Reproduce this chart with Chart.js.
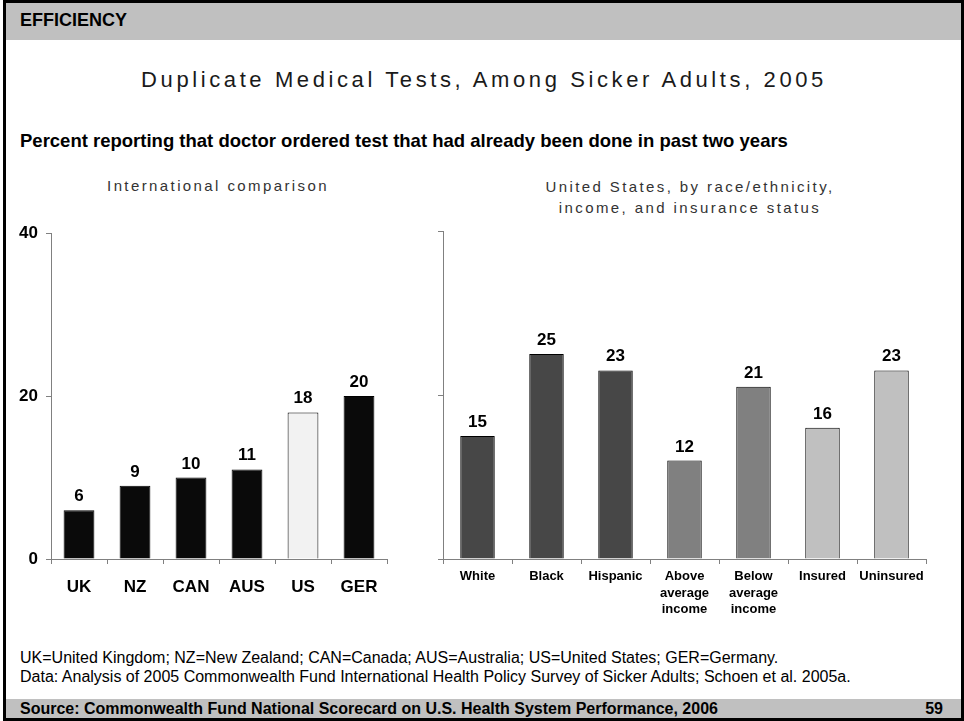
<!DOCTYPE html>
<html>
<head>
<meta charset="utf-8">
<script src="https://cdn.jsdelivr.net/npm/chart.js@4"></script>
<style>
  body { margin:0; background:#fff; font-family:"Liberation Sans", Arial, sans-serif; }
  #page { position:relative; width:964px; height:721px; overflow:hidden; }
  #frame { position:absolute; left:3px; top:0; width:961px; height:721px; box-sizing:border-box; border:3px solid #000; z-index:5; pointer-events:none; }
  #header { position:absolute; left:3px; top:0; width:961px; height:40px; background:#c0c0c0; }
  #header span { position:absolute; left:17px; top:10px; font-weight:bold; font-size:18px; }
  #footer { position:absolute; left:3px; top:699px; width:961px; height:22px; background:#c0c0c0; font-weight:bold; font-size:16px; }
  #footer .src { position:absolute; left:17px; top:1px; }
  #footer .num { position:absolute; right:21px; top:1px; }
  .txt { position:absolute; white-space:nowrap; }
  #title { left:0; width:968px; top:67px; text-align:center; font-size:22px; letter-spacing:3.6px; color:#1a1a1a; }
  #subtitle { left:20px; top:130px; font-size:18.5px; font-weight:bold; }
  #lt { left:13px; width:410px; top:177px; text-align:center; font-size:15px; letter-spacing:2.4px; color:#333; }
  #rt { left:430px; width:520px; top:176px; text-align:center; font-size:15px; letter-spacing:2.4px; line-height:21px; color:#333; }
  #notes { left:20px; top:648px; font-size:16px; line-height:19px; }
  canvas { position:absolute; }
</style>
</head>
<body>
<div id="page">
  <div id="header"><span>EFFICIENCY</span></div>
  <div class="txt" id="title">Duplicate Medical Tests, Among Sicker Adults, 2005</div>
  <div class="txt" id="subtitle">Percent reporting that doctor ordered test that had already been done in past two years</div>
  <div class="txt" id="lt">International comparison</div>
  <div class="txt" id="rt">United States, by race/ethnicity,<br>income, and insurance status</div>
  <div style="position:absolute;left:0;top:215px;width:400px;height:420px"><canvas id="intl"></canvas></div>
  <div style="position:absolute;left:430px;top:215px;width:520px;height:420px"><canvas id="us"></canvas></div>
  <div class="txt" id="notes">UK=United Kingdom; NZ=New Zealand; CAN=Canada; AUS=Australia; US=United States; GER=Germany.<br>Data: Analysis of 2005 Commonwealth Fund International Health Policy Survey of Sicker Adults; Schoen et al. 2005a.</div>
  <div id="footer"><span class="src">Source: Commonwealth Fund National Scorecard on U.S. Health System Performance, 2006</span><span class="num">59</span></div>
  <div id="frame"></div>
</div>
<script>
// data
const countries = ['UK', 'NZ', 'CAN', 'AUS', 'US', 'GER'];
const countryValues = [6, 9, 10, 11, 18, 20];
const countryColors = ['#0a0a0a', '#0a0a0a', '#0a0a0a', '#0a0a0a', '#f2f2f2', '#0a0a0a'];

const groups = ['White', 'Black', 'Hispanic', ['Above', 'average', 'income'], ['Below', 'average', 'income'], 'Insured', 'Uninsured'];
const groupValues = [15, 25, 23, 12, 21, 16, 23];
const groupColors = ['#474747', '#474747', '#474747', '#808080', '#808080', '#c0c0c0', '#c0c0c0'];

const yTicks = [0, 20, 40];

Chart.defaults.font.family = '"Liberation Sans", Arial, sans-serif';
Chart.defaults.color = '#000';
Chart.defaults.animation = false;

// numbers above bars
const valueLabels = {
  id: 'valueLabels',
  afterDatasetsDraw(chart) {
    const ctx = chart.ctx;
    const ds = chart.data.datasets[0];
    ctx.save();
    ctx.font = 'bold 17px "Liberation Sans", Arial, sans-serif';
    ctx.fillStyle = '#000';
    ctx.textAlign = 'center';
    ctx.textBaseline = 'alphabetic';
    chart.getDatasetMeta(0).data.forEach((bar, i) => {
      ctx.fillText(ds.data[i], bar.x, bar.y - 9);
    });
    ctx.restore();
  }
};

function makeChart(id, labels, values, colors, opts) {
  return new Chart(document.getElementById(id), {
    type: 'bar',
    data: { labels: labels, datasets: [{ data: values, backgroundColor: colors, borderColor: '#000', borderWidth: 1, categoryPercentage: 1, barPercentage: opts.barPct }] },
    options: {
      responsive: true, maintainAspectRatio: false,
      layout: { padding: { top: 16, right: opts.padRight, left: 0, bottom: 0 } },
      plugins: { legend: { display: false }, tooltip: { enabled: false } },
      scales: {
        x: {
          grid: { display: true, drawOnChartArea: false, offset: true, tickLength: 5, color: '#808080' },
          border: { color: '#808080' },
          ticks: { font: { size: opts.xFont, weight: 'bold', lineHeight: 1.28 }, padding: opts.xPad, maxRotation: 0, autoSkip: false },
          afterFit: s => { s.height = 76; }
        },
        y: {
          min: 0, max: 40,
          afterBuildTicks: s => { s.ticks = yTicks.map(v => ({ value: v })); },
          grid: { display: true, drawOnChartArea: false, tickLength: 5, color: '#808080' },
          border: { color: '#808080' },
          ticks: { display: opts.yLabels, font: { size: 17, weight: 'bold' }, padding: 8 },
          afterFit: s => { s.width = opts.yWidth; }
        }
      }
    },
    plugins: [valueLabels]
  });
}

makeChart('intl', countries, countryValues, countryColors, { barPct: 0.55, padRight: 13, xFont: 17, xPad: 12, yLabels: true, yWidth: 51 });
makeChart('us', groups, groupValues, groupColors, { barPct: 0.5, padRight: 24, xFont: 13, xPad: 4, yLabels: false, yWidth: 13 });
</script>
</body>
</html>
